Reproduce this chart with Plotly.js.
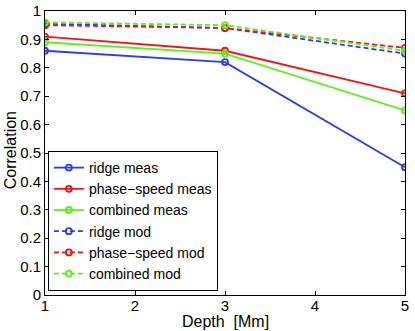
<!DOCTYPE html>
<html>
<head>
<meta charset="utf-8">
<script src="https://cdn.plot.ly/plotly-3.0.1.min.js"></script>
<style>
  html, body { margin: 0; padding: 0; background: #fff; }
  #chart { width: 415px; height: 331px; }
</style>
</head>
<body>
<div id="chart"></div>
<script>
var depth = [1, 3, 5];

var ridgeMeas = [0.86, 0.82, 0.45];
var phaseMeas = [0.91, 0.86, 0.71];
var combinedMeas = [0.89, 0.85, 0.65];
var ridgeMod = [0.955, 0.94, 0.85];
var phaseMod = [0.95, 0.94, 0.87];
var combinedMod = [0.96, 0.95, 0.86];

var names = ['ridge meas', 'phase\u2212speed meas', 'combined meas',
             'ridge mod', 'phase\u2212speed mod', 'combined mod'];
var series = [ridgeMeas, phaseMeas, combinedMeas, ridgeMod, phaseMod, combinedMod];
var colors = ['#2a3cf2', '#f01414', '#5ef01a', '#2a3cf2', '#f01414', '#5ef01a'];

var data = series.map(function (vals, i) {
  return {
    x: depth,
    y: vals,
    name: names[i],
    type: 'scatter',
    mode: 'lines+markers',
    line: { color: colors[i], width: 1.8, dash: i < 3 ? 'solid' : '5px,3px' },
    marker: { symbol: 'circle-open', size: 6, color: colors[i], line: { width: 1.8, color: colors[i] } }
  };
});

var axisStyle = {
  showgrid: false,
  zeroline: false,
  showline: true,
  linecolor: '#000',
  linewidth: 1,
  mirror: 'ticks',
  ticks: 'inside',
  ticklen: 4,
  tickcolor: '#000',
  tickfont: { family: 'Liberation Sans, Arial, sans-serif', size: 15, color: '#000' }
};

var layout = {
  width: 415,
  height: 331,
  margin: { l: 45, r: 10, t: 11, b: 36 },
  paper_bgcolor: '#fff',
  plot_bgcolor: '#fff',
  font: { family: 'Liberation Sans, Arial, sans-serif', size: 14, color: '#000' },
  showlegend: true,
  xaxis: Object.assign({}, axisStyle, {
    range: [1, 5],
    tickvals: [1, 2, 3, 4, 5],
    ticklabelstandoff: -3
  }),
  yaxis: Object.assign({}, axisStyle, {
    range: [0, 1],
    tickvals: [0, 0.1, 0.2, 0.3, 0.4, 0.5, 0.6, 0.7, 0.8, 0.9, 1],
    ticktext: ['0', '0.1', '0.2', '0.3', '0.4', '0.5', '0.6', '0.7', '0.8', '0.9', '1']
  }),
  annotations: [
    { text: 'Depth&nbsp; [Mm]', xref: 'paper', yref: 'paper', x: 0.5, y: -0.092,
      xanchor: 'center', yanchor: 'middle', showarrow: false, font: { size: 16 } },
    { text: 'Correlation', xref: 'paper', yref: 'paper', x: -0.097, y: 0.51,
      xanchor: 'center', yanchor: 'middle', textangle: -90, showarrow: false, font: { size: 16 } }
  ],
  legend: {
    x: 0.008,
    y: 0.014,
    xanchor: 'left',
    yanchor: 'bottom',
    bgcolor: '#fff',
    bordercolor: '#000',
    borderwidth: 1,
    font: { size: 14 },
    tracegroupgap: 0,
    itemwidth: 30
  }
};

Plotly.newPlot('chart', data, layout, { displayModeBar: false, staticPlot: true });
</script>
</body>
</html>
